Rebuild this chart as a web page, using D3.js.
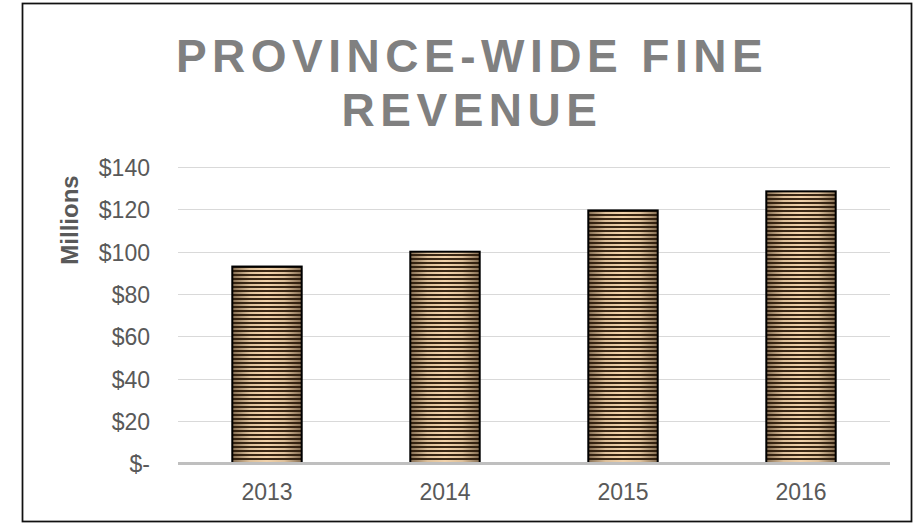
<!DOCTYPE html>
<html>
<head>
<meta charset="utf-8">
<script src="https://cdn.jsdelivr.net/npm/d3@7"></script>
<style>
  body { margin: 0; background: #fff; }
  text { font-family: "Liberation Sans", Arial, sans-serif; }
</style>
</head>
<body>
<div id="plot"></div>
<script>
// data
var years = ["2013", "2014", "2015", "2016"];
var revenue = [93, 100, 119.5, 128.5];
var yTicks = [0, 20, 40, 60, 80, 100, 120, 140];
var titleLines = ["PROVINCE-WIDE FINE", "REVENUE"];

var W = 917, H = 523;
var margin = {top: 167, right: 27, bottom: 60, left: 178};

var svg = d3.select("#plot")
  .append("svg")
  .attr("width", W)
  .attr("height", H);

var defs = svg.append("defs");

// horizontal stripes
var pat = defs.append("pattern")
  .attr("id", "stripes")
  .attr("patternUnits", "userSpaceOnUse")
  .attr("width", 8)
  .attr("height", 4);
pat.append("rect").attr("width", 8).attr("height", 4).attr("fill", "#3a2714");
pat.append("rect").attr("y", 0).attr("width", 8).attr("height", 2).attr("fill", "#f2d3ab");

// darker towards the bar edges
var shade = defs.append("linearGradient")
  .attr("id", "shade")
  .attr("x1", "0%").attr("y1", "0%")
  .attr("x2", "100%").attr("y2", "0%");
shade.append("stop").attr("offset", "0%").attr("stop-color", "#2a1a0a").attr("stop-opacity", 0.55);
shade.append("stop").attr("offset", "25%").attr("stop-color", "#2a1a0a").attr("stop-opacity", 0.1);
shade.append("stop").attr("offset", "50%").attr("stop-color", "#2a1a0a").attr("stop-opacity", 0);
shade.append("stop").attr("offset", "75%").attr("stop-color", "#2a1a0a").attr("stop-opacity", 0.1);
shade.append("stop").attr("offset", "100%").attr("stop-color", "#2a1a0a").attr("stop-opacity", 0.55);

// chart frame
svg.append("rect")
  .attr("x", 22.5)
  .attr("y", 3.5)
  .attr("width", 889)
  .attr("height", 518)
  .attr("fill", "none")
  .attr("stroke", "#111")
  .attr("stroke-width", 1.75);

var x = d3.scaleBand()
  .domain(years)
  .range([margin.left, W - margin.right])
  .paddingInner(0.61)
  .paddingOuter(0.305);

var y = d3.scaleLinear()
  .domain([0, 140])
  .range([463.5, margin.top]);

// gridlines
svg.selectAll(".grid")
  .data(yTicks.filter(d => d > 0))
  .join("line")
  .attr("class", "grid")
  .attr("x1", margin.left)
  .attr("x2", W - margin.right)
  .attr("y1", d => Math.round(y(d)) + 0.5)
  .attr("y2", d => Math.round(y(d)) + 0.5)
  .attr("stroke", "#d9d9d9")
  .attr("stroke-width", 1);

// y labels
var yAxis = d3.axisLeft(y)
  .tickValues(yTicks)
  .tickSize(0)
  .tickPadding(0)
  .tickFormat(d => d === 0 ? "$-" : "$" + d);

var gy = svg.append("g")
  .attr("transform", "translate(150,1)")
  .call(yAxis);
gy.select(".domain").remove();
gy.selectAll("text")
  .style("font-family", "'Liberation Sans', Arial, sans-serif")
  .style("font-size", "23px")
  .attr("fill", "#595959");

// bars
var bars = svg.selectAll(".bar")
  .data(years)
  .join("g")
  .attr("class", "bar");

bars.append("rect")
  .attr("x", d => x(d))
  .attr("y", (d, i) => y(revenue[i]))
  .attr("width", x.bandwidth())
  .attr("height", (d, i) => y(0) - y(revenue[i]))
  .attr("fill", "url(#stripes)");

bars.append("rect")
  .attr("x", d => x(d))
  .attr("y", (d, i) => y(revenue[i]))
  .attr("width", x.bandwidth())
  .attr("height", (d, i) => y(0) - y(revenue[i]))
  .attr("fill", "url(#shade)")
  .attr("stroke", "#000")
  .attr("stroke-width", 2);

// baseline
svg.append("line")
  .attr("x1", margin.left)
  .attr("x2", W - margin.right)
  .attr("y1", y(0))
  .attr("y2", y(0))
  .attr("stroke", "#bfbfbf")
  .attr("stroke-width", 3);

// x labels
var xAxis = d3.axisBottom(x).tickSize(0).tickPadding(0);
var gx = svg.append("g")
  .attr("transform", "translate(0,483.5)")
  .call(xAxis);
gx.select(".domain").remove();
gx.selectAll("text")
  .style("font-family", "'Liberation Sans', Arial, sans-serif")
  .style("font-size", "23px")
  .attr("fill", "#595959");

// axis title
svg.append("text")
  .attr("transform", "translate(78,220) rotate(-90)")
  .attr("text-anchor", "middle")
  .style("font-size", "24px")
  .style("font-weight", "bold")
  .attr("fill", "#595959")
  .text("Millions");

// chart title
svg.selectAll(".title")
  .data(titleLines)
  .join("text")
  .attr("class", "title")
  .attr("x", 472)
  .attr("y", (d, i) => 72 + i * 54)
  .attr("text-anchor", "middle")
  .style("font-size", "46px")
  .style("font-weight", "bold")
  .style("letter-spacing", "5.5px")
  .attr("fill", "#808080")
  .text(d => d);
</script>
</body>
</html>
